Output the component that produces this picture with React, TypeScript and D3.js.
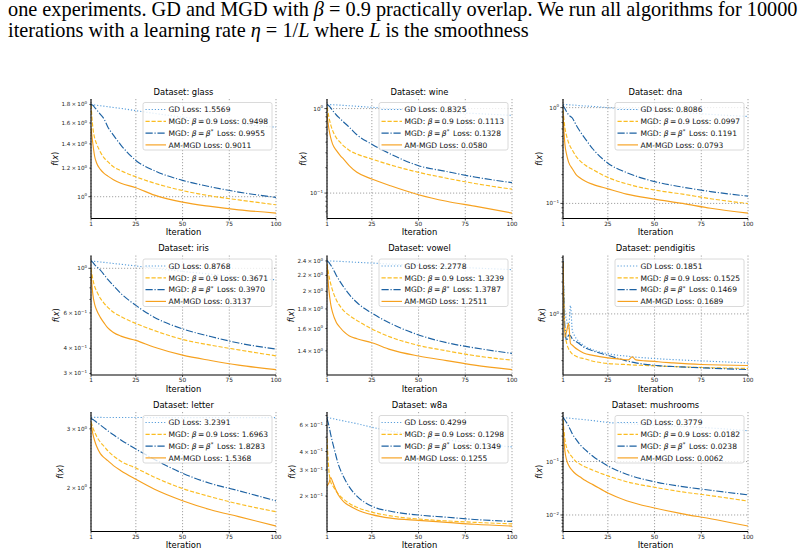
import React, { useEffect, useRef } from 'react';
import * as d3 from 'd3';

// iteration grids the losses were sampled on
const ITERS = [1, 2, 3, 4, 6, 8, 10, 13, 17, 25, 35, 50, 65, 80, 100];
const ITERS_PEN = [1, 2, 3, 4, 5, 6, 7, 9, 12, 17, 25, 32, 36, 38, 40, 45, 50, 52, 60, 75, 100];
const ITERS_W8A = [1, 2, 3, 4, 5, 7, 10, 13, 17, 25, 35, 50, 65, 80, 100];
const X_TICKS = [1, 25, 50, 75, 100];

// glass
const glassGd = [1.8, 1.797, 1.794, 1.79, 1.785, 1.78, 1.775, 1.765, 1.755, 1.73, 1.7, 1.66, 1.625, 1.59, 1.5569];
const glassMgd = [1.8, 1.55, 1.45, 1.4, 1.33, 1.28, 1.25, 1.21, 1.18, 1.135, 1.09, 1.04, 1.005, 0.98, 0.9498];
const glassMgdStar = [1.8, 1.79, 1.765, 1.74, 1.69, 1.64, 1.56, 1.48, 1.39, 1.26, 1.18, 1.11, 1.065, 1.03, 0.9955];
const glassAm = [1.55, 1.4, 1.29, 1.24, 1.19, 1.16, 1.14, 1.115, 1.09, 1.059, 1.01, 0.966, 0.94, 0.92, 0.9011];

// wine
const wineGd = [1.12, 1.118, 1.115, 1.11, 1.105, 1.1, 1.09, 1.08, 1.065, 1.035, 1.0, 0.955, 0.91, 0.875, 0.8325];
const wineMgd = [1.05, 0.8, 0.64, 0.55, 0.45, 0.4, 0.36, 0.32, 0.29, 0.253, 0.215, 0.176, 0.15, 0.13, 0.1113];
const wineMgdStar = [1.12, 1.08, 1.02, 0.95, 0.84, 0.76, 0.69, 0.6, 0.49, 0.379, 0.29, 0.211, 0.18, 0.155, 0.1328];
const wineAm = [0.85, 0.58, 0.45, 0.38, 0.32, 0.28, 0.25, 0.21, 0.176, 0.147, 0.122, 0.0957, 0.08, 0.07, 0.058];

// dna
const dnaGd = [1.08, 1.078, 1.075, 1.07, 1.065, 1.06, 1.05, 1.04, 1.03, 1.0, 0.97, 0.93, 0.89, 0.85, 0.8086];
const dnaMgd = [0.95, 0.62, 0.5, 0.43, 0.36, 0.31, 0.28, 0.25, 0.225, 0.187, 0.16, 0.138, 0.125, 0.112, 0.0997];
const dnaMgdStar = [1.05, 0.98, 0.9, 0.84, 0.78, 0.66, 0.57, 0.47, 0.37, 0.263, 0.21, 0.169, 0.148, 0.133, 0.1191];
const dnaAm = [0.85, 0.42, 0.32, 0.27, 0.23, 0.2, 0.185, 0.17, 0.158, 0.142, 0.125, 0.111, 0.1, 0.089, 0.0793];

// iris
const irisGd = [1.088, 1.085, 1.082, 1.08, 1.075, 1.07, 1.065, 1.057, 1.047, 1.027, 1.0, 0.965, 0.935, 0.905, 0.8768];
const irisMgd = [1.0, 0.88, 0.81, 0.77, 0.71, 0.67, 0.64, 0.605, 0.575, 0.532, 0.49, 0.443, 0.415, 0.393, 0.3671];
const irisMgdStar = [1.088, 1.07, 1.04, 1.02, 0.98, 0.93, 0.88, 0.82, 0.75, 0.654, 0.57, 0.5, 0.458, 0.425, 0.397];
const irisAm = [0.95, 0.74, 0.66, 0.62, 0.57, 0.535, 0.505, 0.48, 0.46, 0.438, 0.405, 0.37, 0.348, 0.33, 0.3137];

// vowel
const vowelGd = [2.4, 2.4, 2.399, 2.398, 2.396, 2.394, 2.39, 2.386, 2.38, 2.37, 2.355, 2.335, 2.315, 2.3, 2.2778];
const vowelMgd = [2.36, 2.2, 2.09, 2.01, 1.9, 1.83, 1.78, 1.73, 1.68, 1.596, 1.52, 1.446, 1.4, 1.36, 1.3239];
const vowelMgdStar = [2.4, 2.38, 2.34, 2.3, 2.2, 2.12, 2.05, 1.96, 1.87, 1.755, 1.65, 1.54, 1.47, 1.425, 1.3787];
const vowelAm = [2.35, 2.02, 1.85, 1.76, 1.66, 1.61, 1.57, 1.53, 1.505, 1.47, 1.41, 1.357, 1.32, 1.285, 1.2511];

// pendigitis
const penGd = [6.2, 1.1, 0.8, 0.6, 1.33, 0.56, 0.48, 0.4, 0.338, 0.29, 0.254, 0.238, 0.232, 0.228, 0.225, 0.22, 0.215, 0.213, 0.207, 0.198, 0.1851];
const penMgd = [6.0, 0.55, 0.36, 0.3, 0.27, 0.25, 0.24, 0.225, 0.215, 0.196, 0.181, 0.176, 0.174, 0.172, 0.171, 0.169, 0.167, 0.166, 0.163, 0.158, 0.1525];
const penMgdStar = [6.2, 0.65, 0.4, 0.48, 0.47, 0.42, 0.4, 0.37, 0.32, 0.28, 0.24, 0.21, 0.195, 0.19, 0.185, 0.176, 0.17, 0.168, 0.163, 0.156, 0.1469];
const penAm = [6.0, 0.45, 0.56, 0.72, 0.36, 0.34, 0.32, 0.29, 0.26, 0.24, 0.22, 0.21, 0.205, 0.227, 0.205, 0.198, 0.195, 0.192, 0.185, 0.175, 0.1689];

// letter
const letterGd = [3.245, 3.245, 3.245, 3.245, 3.245, 3.244, 3.244, 3.244, 3.243, 3.243, 3.242, 3.242, 3.241, 3.24, 3.2391];
const letterMgd = [3.15, 3.02, 2.93, 2.85, 2.74, 2.66, 2.58, 2.49, 2.4, 2.29, 2.15, 1.99, 1.88, 1.79, 1.6963];
const letterMgdStar = [3.22, 3.2, 3.17, 3.14, 3.08, 3.02, 2.96, 2.88, 2.78, 2.61, 2.43, 2.21, 2.06, 1.96, 1.8283];
const letterAm = [3.1, 2.9, 2.76, 2.66, 2.53, 2.46, 2.41, 2.33, 2.25, 2.12, 1.98, 1.83, 1.72, 1.64, 1.5368];

// w8a
const w8aGd = [0.68, 0.676, 0.672, 0.668, 0.664, 0.655, 0.643, 0.632, 0.617, 0.584, 0.55, 0.51, 0.48, 0.455, 0.4299];
const w8aMgd = [0.49, 0.3, 0.25, 0.235, 0.225, 0.207, 0.19, 0.178, 0.168, 0.156, 0.147, 0.14, 0.136, 0.133, 0.1298];
const w8aMgdStar = [0.67, 0.6, 0.52, 0.46, 0.41, 0.33, 0.268, 0.23, 0.2, 0.171, 0.158, 0.149, 0.144, 0.139, 0.1349];
const w8aAm = [0.234, 0.245, 0.267, 0.25, 0.232, 0.204, 0.183, 0.172, 0.162, 0.15, 0.142, 0.137, 0.133, 0.129, 0.1255];

// mushrooms
const mushGd = [0.67, 0.66, 0.655, 0.65, 0.64, 0.63, 0.62, 0.605, 0.585, 0.54, 0.51, 0.48, 0.455, 0.425, 0.3779];
const mushMgd = [0.6, 0.26, 0.18, 0.15, 0.12, 0.1, 0.09, 0.079, 0.069, 0.054, 0.042, 0.033, 0.027, 0.023, 0.0182];
const mushMgdStar = [0.67, 0.6, 0.53, 0.46, 0.33, 0.26, 0.21, 0.165, 0.126, 0.083, 0.058, 0.0418, 0.034, 0.029, 0.0238];
const mushAm = [0.5, 0.16, 0.105, 0.085, 0.068, 0.058, 0.052, 0.044, 0.037, 0.0257, 0.0185, 0.0135, 0.0105, 0.0085, 0.0062];

// labelled y ticks per dataset
const glassLabels = [1, 1.2, 1.4, 1.6, 1.8];
const wineLabels = [1, 0.1];
const dnaLabels = [1, 0.1];
const irisLabels = [1, 0.6, 0.4, 0.3];
const vowelLabels = [1.4, 1.6, 1.8, 2, 2.2, 2.4];
const penLabels = [1];
const letterLabels = [2, 3];
const w8aLabels = [0.2, 0.3, 0.4, 0.6];
const mushLabels = [0.1, 0.01];

const PANELS = [
  { name: 'glass', iters: ITERS, series: [glassGd, glassMgd, glassMgdStar, glassAm], labels: glassLabels, logMinor: false },
  { name: 'wine', iters: ITERS, series: [wineGd, wineMgd, wineMgdStar, wineAm], labels: wineLabels, logMinor: true },
  { name: 'dna', iters: ITERS, series: [dnaGd, dnaMgd, dnaMgdStar, dnaAm], labels: dnaLabels, logMinor: true },
  { name: 'iris', iters: ITERS, series: [irisGd, irisMgd, irisMgdStar, irisAm], labels: irisLabels, logMinor: true },
  { name: 'vowel', iters: ITERS, series: [vowelGd, vowelMgd, vowelMgdStar, vowelAm], labels: vowelLabels, logMinor: false },
  { name: 'pendigitis', iters: ITERS_PEN, series: [penGd, penMgd, penMgdStar, penAm], labels: penLabels, logMinor: true },
  { name: 'letter', iters: ITERS, series: [letterGd, letterMgd, letterMgdStar, letterAm], labels: letterLabels, logMinor: true },
  { name: 'w8a', iters: ITERS_W8A, series: [w8aGd, w8aMgd, w8aMgdStar, w8aAm], labels: w8aLabels, logMinor: true },
  { name: 'mushrooms', iters: ITERS, series: [mushGd, mushMgd, mushMgdStar, mushAm], labels: mushLabels, logMinor: true },
];

const STYLES = [
  { color: '#5a9fdb', dash: '1.2,1.9' },
  { color: '#fbbd22', dash: '4.2,1.8' },
  { color: '#1d62a3', dash: '7.2,1.8,1.15,1.8' },
  { color: '#f6a11f', dash: null },
];

const COL_X = [91, 327, 563];
const ROW_Y = [99, 255.5, 412];
const W = 185;
const H = 119.5;
const LW = 1.15;
const FONT = 'DejaVu Sans, sans-serif';

const isDecade = (v: number) => Math.abs(Math.log10(v) - Math.round(Math.log10(v))) < 1e-9;

function addLogLabel(sel: any, v: number) {
  const e = Math.floor(Math.log10(v) + 1e-9);
  const m = Math.round((v / Math.pow(10, e)) * 10) / 10;
  const exp = e < 0 ? '\u2212' + Math.abs(e) : String(e);
  sel.append('tspan').text(m === 1 ? '10' : `${m}\u2009\u00d7\u200910`);
  sel.append('tspan').attr('dy', -2.3).attr('font-size', 4).text(exp);
}

function legendLine(sel: any, k: number, loss: string) {
  const it = (s: string) => sel.append('tspan').attr('font-style', 'italic').text(s);
  const tx = (s: string) => sel.append('tspan').text(s);
  if (k === 0) tx(`GD Loss: ${loss}`);
  if (k === 1) { tx('MGD: '); it('\u03b2'); tx(`\u2009=\u20090.9 Loss: ${loss}`); }
  if (k === 2) {
    tx('MGD: '); it('\u03b2'); tx('\u2009=\u2009'); it('\u03b2');
    sel.append('tspan').attr('dy', -2.8).attr('font-size', 5.3).text('*');
    sel.append('tspan').attr('dy', 2.8).text(`\u2002Loss: ${loss}`);
  }
  if (k === 3) tx(`AM-MGD Loss: ${loss}`);
}

function drawPanel(svg: any, p: any, i: number) {
  const left = COL_X[i % 3];
  const top = ROW_Y[Math.floor(i / 3)];
  const all = p.series.flat();
  const lo = Math.log(d3.min(all) as number);
  const hi = Math.log(d3.max(all) as number);
  const pad = (hi - lo) * 0.05;

  const x = d3.scaleLinear().domain([1, 100]).range([0, W]);
  const y = d3.scaleLog().domain([Math.exp(lo - pad), Math.exp(hi + pad)]).range([H, 0]);
  const [d0, d1] = y.domain();

  const g = svg.append('g').attr('transform', `translate(${left},${top})`);
  const clipId = `clip-${p.name}`;
  g.append('clipPath').attr('id', clipId).append('rect').attr('width', W).attr('height', H);

  // grid: x ticks and decade lines
  const grid = g.append('g').attr('stroke', '#9a9a9a').attr('stroke-width', 0.9).attr('stroke-dasharray', '1.2,1.8');
  X_TICKS.forEach((t) => grid.append('line').attr('x1', x(t)).attr('x2', x(t)).attr('y1', 0).attr('y2', H));
  p.labels.filter(isDecade).forEach((t: number) =>
    grid.append('line').attr('x1', 0).attr('x2', W).attr('y1', y(t)).attr('y2', y(t)));

  // curves
  const line = d3.line<number>()
    .x((_, j) => x(p.iters[j]))
    .y((v) => y(v))
    .curve(d3.curveMonotoneX);
  const curves = g.append('g').attr('clip-path', `url(#${clipId})`);
  p.series.forEach((s: number[], k: number) => {
    curves.append('path')
      .attr('d', line(s))
      .attr('fill', 'none')
      .attr('stroke', STYLES[k].color)
      .attr('stroke-width', LW)
      .attr('stroke-dasharray', STYLES[k].dash);
  });

  // y axis
  const yAxis = g.append('g').attr('class', 'yaxis');
  const minor: number[] = [];
  if (p.logMinor) {
    for (let e = Math.floor(Math.log10(d0)); e <= Math.ceil(Math.log10(d1)); e++) {
      for (let m = 2; m <= 9; m++) {
        const v = m * Math.pow(10, e);
        if (v >= d0 && v <= d1 && !p.labels.some((l: number) => Math.abs(l - v) < 1e-9)) minor.push(v);
      }
    }
  }
  minor.forEach((t) => yAxis.append('line').attr('x1', -1.6).attr('x2', 0).attr('y1', y(t)).attr('y2', y(t))
    .attr('stroke', '#000').attr('stroke-width', 0.6));
  p.labels.filter((t: number) => t >= d0 && t <= d1).forEach((t: number) => {
    yAxis.append('line').attr('x1', isDecade(t) ? -2.6 : -1.6).attr('x2', 0).attr('y1', y(t)).attr('y2', y(t))
      .attr('stroke', '#000').attr('stroke-width', 0.7);
    const txt = yAxis.append('text')
      .attr('x', -4).attr('y', y(t) + 2)
      .attr('text-anchor', 'end').attr('font-size', 5.6).attr('font-family', FONT).attr('fill', '#222');
    addLogLabel(txt, t);
  });

  // x axis
  X_TICKS.forEach((t) => {
    g.append('line').attr('x1', x(t)).attr('x2', x(t)).attr('y1', H).attr('y2', H + 2)
      .attr('stroke', '#000').attr('stroke-width', 0.7);
    g.append('text').attr('x', x(t)).attr('y', H + 7.3)
      .attr('text-anchor', 'middle').attr('font-size', 5.8).attr('font-family', FONT).attr('fill', '#222')
      .text(t);
  });

  // spines
  g.append('line').attr('x1', 0).attr('x2', 0).attr('y1', 0).attr('y2', H).attr('stroke', '#000').attr('stroke-width', 1.1);
  g.append('line').attr('x1', 0).attr('x2', W).attr('y1', H).attr('y2', H).attr('stroke', '#000').attr('stroke-width', 1.1);

  // title and axis labels
  g.append('text').attr('x', W / 2).attr('y', -4.5).attr('text-anchor', 'middle')
    .attr('font-size', 8.4).attr('font-family', FONT).text(`Dataset: ${p.name}`);
  g.append('text').attr('x', W / 2).attr('y', H + 16.5).attr('text-anchor', 'middle')
    .attr('font-size', 8.4).attr('font-family', FONT).text('Iteration');
  const box = (yAxis.node() as SVGGElement).getBBox();
  const ly = g.append('text')
    .attr('transform', `translate(${box.x - 4},${H / 2}) rotate(-90)`)
    .attr('text-anchor', 'middle').attr('font-size', 8.2).attr('font-family', FONT);
  ly.append('tspan').attr('font-style', 'italic').text('f');
  ly.append('tspan').text('(');
  ly.append('tspan').attr('font-style', 'italic').text('x');
  ly.append('tspan').text(')');

  // legend, upper right
  const lw = 129;
  const lh = 47.5;
  const leg = g.append('g').attr('transform', `translate(${W - 4 - lw},3.5)`);
  leg.append('rect').attr('width', lw).attr('height', lh).attr('rx', 2)
    .attr('fill', 'rgba(255,255,255,0.8)').attr('stroke', '#d0d0d0').attr('stroke-width', 0.8);
  p.series.forEach((s: number[], k: number) => {
    const cy = 7 + k * 11.8;
    leg.append('line').attr('x1', 2.5).attr('x2', 23).attr('y1', cy).attr('y2', cy)
      .attr('stroke', STYLES[k].color).attr('stroke-width', LW).attr('stroke-dasharray', STYLES[k].dash);
    const t = leg.append('text').attr('x', 25.5).attr('y', cy + 2.7)
      .attr('font-size', 7.55).attr('font-family', FONT).attr('fill', '#111');
    legendLine(t, k, s[s.length - 1].toFixed(4));
  });
}

function drawHeader(svg: any) {
  const serif = 'Liberation Serif, Times New Roman, serif';
  const l1 = svg.append('text').attr('x', 8).attr('y', 16).attr('font-size', 20.3).attr('font-family', serif);
  l1.append('tspan').text('one experiments. GD and MGD with ');
  l1.append('tspan').attr('font-style', 'italic').text('\u03b2');
  l1.append('tspan').text(' = 0.9 practically overlap. We run all algorithms for 10000');

  const l2 = svg.append('text').attr('x', 8).attr('y', 36.5).attr('font-size', 20.3).attr('font-family', serif);
  l2.append('tspan').text('iterations with a learning rate ');
  l2.append('tspan').attr('font-style', 'italic').text('\u03b7');
  l2.append('tspan').text(' = 1/');
  l2.append('tspan').attr('font-style', 'italic').text('L');
  l2.append('tspan').text(' where ');
  l2.append('tspan').attr('font-style', 'italic').text('L');
  l2.append('tspan').text(' is the smoothness');
}

export default function App() {
  const ref = useRef<SVGSVGElement>(null);

  useEffect(() => {
    const svg = d3.select(ref.current);
    svg.selectAll('*').remove();
    drawHeader(svg);
    PANELS.forEach((p, i) => drawPanel(svg, p, i));
  }, []);

  return (
    <svg
      ref={ref}
      width={804}
      height={556}
      style={{ position: 'absolute', left: 0, top: 0, background: '#fff' }}
    />
  );
}
